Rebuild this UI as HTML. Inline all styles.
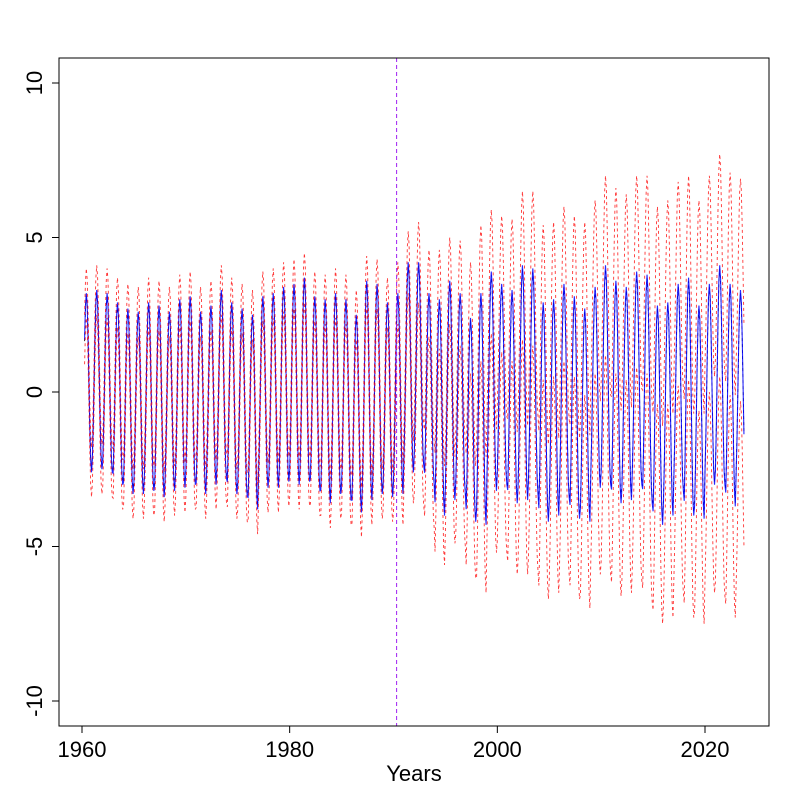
<!DOCTYPE html>
<html><head><meta charset="utf-8"><style>
html,body{margin:0;padding:0;background:#fff;}
svg{display:block;font-family:"Liberation Sans",Arial,sans-serif;}
</style></head><body>
<svg id="chart" width="800" height="800" viewBox="0 0 800 800" xmlns="http://www.w3.org/2000/svg">
<rect width="800" height="800" fill="#fff"/>
<g id="series"></g>
<g id="axes"></g>
</svg>
<script>
const years = [];
for (let y = 1960; y <= 2023; y++) years.push(y);
const bluePeak = [3.2,3.3,3.2,2.9,2.7,2.6,2.9,2.8,2.6,3.0,3.1,2.6,2.8,3.3,2.9,2.7,2.5,3.1,3.2,3.4,3.5,3.7,3.1,3.0,3.2,3.0,2.5,3.6,3.5,2.9,
 3.2,4.2,4.2,3.2,3.0,3.6,3.2,2.4,3.2,3.9,3.5,3.3,4.1,4.0,2.9,3.0,3.5,3.1,2.7,3.4,4.1,3.6,3.4,3.9,3.8,2.8,2.9,3.5,3.7,2.8,3.5,4.1,3.5,3.3];
const blueTrough = [-2.6,-2.5,-2.6,-3.0,-3.3,-3.3,-3.2,-3.4,-3.2,-3.1,-3.0,-3.3,-3.0,-2.8,-3.3,-3.4,-3.8,-3.1,-3.1,-2.9,-3.0,-2.9,-3.2,-3.6,-3.3,-3.5,-3.9,-3.5,-3.3,-3.4,
 -3.3,-2.6,-2.4,-3.0,-4.0,-3.5,-3.3,-4.2,-4.3,-3.2,-3.0,-3.6,-3.5,-3.3,-4.2,-4.0,-3.4,-4.1,-4.2,-3.1,-3.0,-3.6,-3.5,-3.0,-3.6,-4.3,-4.0,-3.2,-4.0,-4.1,-3.0,-3.0,-3.7,-3.0];
const bandWidth = [0.8,0.8,0.8,0.8,0.8,0.8,0.8,0.8,0.8,0.8,0.8,0.8,0.8,0.8,0.8,0.8,0.8,0.8,0.8,0.8,0.8,0.8,0.8,0.8,0.8,0.8,0.8,0.8,0.8,0.8,
 1.0,1.0,1.3,1.4,1.6,1.4,1.7,1.8,2.2,2.0,2.2,2.3,2.4,2.5,2.5,2.5,2.5,2.6,2.8,2.8,2.9,3.0,3.0,3.1,3.2,3.2,3.3,3.3,3.3,3.4,3.5,3.6,3.6,3.6];
const xTicks = [1960,1980,2000,2020];
const yTicks = [-10,-5,0,5,10];
const splitYear = 1990.3;

const NS = "http://www.w3.org/2000/svg";
const L = 59, R = 769, T = 58, B = 726;
const xs = v => 82 + (v - 1960) * (705 - 82) / 60;
const ys = v => 392 - v * (392 - 83) / 10;
function mk(tag, attrs, parent) {
  const e = document.createElementNS(NS, tag);
  for (const k in attrs) e.setAttribute(k, attrs[k]);
  parent.appendChild(e); return e;
}
const series = document.getElementById('series');
const axes = document.getElementById('axes');

const fit = [], up = [], lo = [], act = [];
for (let i = 0; i < years.length; i++) {
  for (let m = 0; m < 12; m++) {
    const t = years[i] + m / 12;
    if (t < 1960.25 || t > 2023.76) continue;
    const mid = (bluePeak[i] + blueTrough[i]) / 2, amp = (bluePeak[i] - blueTrough[i]) / 2;
    const v = mid + amp * Math.cos(2 * Math.PI * (t - years[i] - 0.42));
    fit.push([t, v]);
    act.push([t, v * 0.97]);
    up.push([t, v + bandWidth[i]]);
    lo.push([t, v - bandWidth[i]]);
  }
}
const pathOf = pts => pts.map((p, k) => (k ? 'L' : 'M') + xs(p[0]).toFixed(2) + ',' + ys(p[1]).toFixed(2)).join('');
const pa = mk('path', {d: pathOf(act), fill: 'none', stroke: '#000', 'stroke-width': 0.8, 'stroke-dasharray': '3,3'}, series);


const pf = mk('path', {d: pathOf(fit), fill: 'none', stroke: '#0000ff', 'stroke-width': 1.1, 'stroke-opacity': 0.85}, series);


const pu = mk('path', {d: pathOf(up), fill: 'none', stroke: '#ff0000', 'stroke-width': 0.9, 'stroke-dasharray': '3,3', 'stroke-opacity': 0.8}, series);


const pl = mk('path', {d: pathOf(lo), fill: 'none', stroke: '#ff0000', 'stroke-width': 0.9, 'stroke-dasharray': '3,3', 'stroke-opacity': 0.8}, series);


const vl = mk('line', {x1: xs(splitYear), x2: xs(splitYear), y1: T, y2: B, stroke: '#a020f0', 'stroke-width': 1, 'stroke-dasharray': '4,3'}, series);



const box = mk('rect', {x: L, y: T, width: R - L, height: B - T, fill: 'none', stroke: '#000', 'stroke-width': 1}, axes);


xTicks.forEach(v => {
  const x = xs(v);
  const tl = mk('line', {x1: x, x2: x, y1: B, y2: B + 7, stroke: '#000'}, axes);
  
  
  const tx = mk('text', {x: x, y: B + 31, 'text-anchor': 'middle', 'font-size': 22}, axes);
  tx.textContent = v;
  
  
});
yTicks.forEach(v => {
  const y = ys(v);
  const tl = mk('line', {x1: L - 7, x2: L, y1: y, y2: y, stroke: '#000'}, axes);
  
  
  const tx = mk('text', {x: 42, y: y, 'text-anchor': 'middle', 'font-size': 22, transform: 'rotate(-90 42 ' + y + ')'}, axes);
  tx.textContent = v;
  
  
});
const xt = mk('text', {x: 414, y: 781, 'text-anchor': 'middle', 'font-size': 22}, axes);
xt.textContent = 'Years';


</script>
</body></html>
